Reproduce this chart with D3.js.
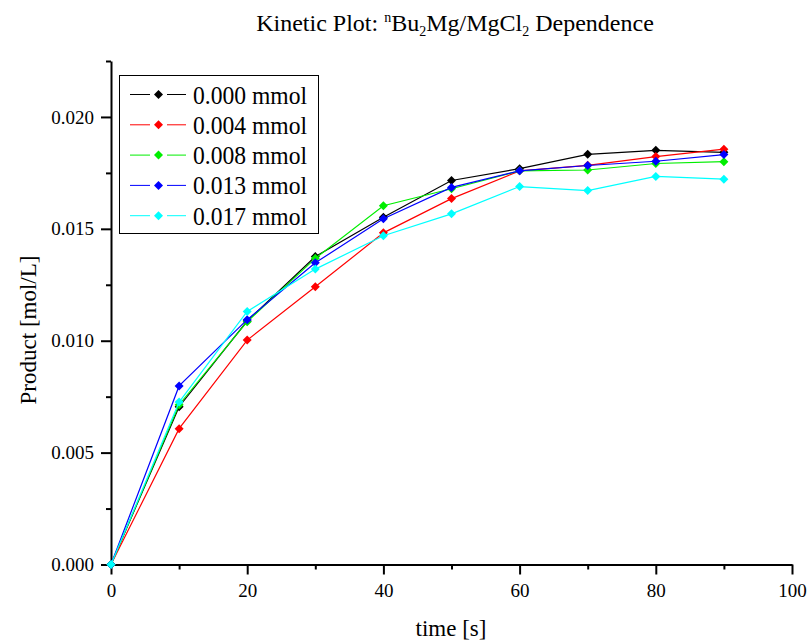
<!DOCTYPE html>
<html>
<head>
<meta charset="utf-8">
<script src="https://cdn.jsdelivr.net/npm/d3@7"></script>
<style>
  body { margin: 0; background: #fff; }
  svg { display: block; font-family: "Liberation Serif", "Times New Roman", serif; }
  .axis path, .axis line { stroke: #000; }
  .axis path { stroke-width: 2; }
  .axis .tick line { stroke-width: 2; }
  .axis text { font-size: 19px; fill: #000; font-family: "Liberation Serif", serif; }
</style>
</head>
<body>
<svg id="chart" width="808" height="640"></svg>
<script>
const times = [0, 10, 20, 30, 40, 50, 60, 70, 80, 90];
const seriesLabels = ['0.000 mmol', '0.004 mmol', '0.008 mmol', '0.013 mmol', '0.017 mmol'];
const seriesColors = ['#000000', '#ff0000', '#00ee00', '#0000ff', '#00ffff'];
const product000 = [0, 0.00705, 0.01088, 0.01376, 0.01552, 0.01716, 0.01769, 0.01833, 0.01851, 0.01842];
const product004 = [0, 0.00607, 0.01003, 0.01241, 0.01482, 0.01635, 0.01759, 0.01784, 0.01823, 0.01856];
const product008 = [0, 0.00714, 0.01085, 0.01368, 0.01603, 0.01679, 0.01759, 0.01763, 0.01792, 0.01800];
const product013 = [0, 0.00798, 0.01094, 0.01348, 0.01545, 0.01685, 0.01759, 0.01783, 0.01802, 0.01832];
const product017 = [0, 0.00726, 0.01131, 0.01320, 0.01469, 0.01567, 0.01689, 0.01671, 0.01734, 0.01722];
const xTicks = [0, 20, 40, 60, 80, 100];
const xMinorTicks = [10, 30, 50, 70, 90];
const yTicks = [0, 0.005, 0.010, 0.015, 0.020];
const yMinorTicks = [0.0025, 0.0075, 0.0125, 0.0175, 0.0225];

const series = [product000, product004, product008, product013, product017].map((values, i) => ({
  label: seriesLabels[i],
  color: seriesColors[i],
  points: values.map((v, j) => ({ t: times[j], v })),
}));

const svg = d3.select('#chart');
const x = d3.scaleLinear().domain([0, 100]).range([111, 792]);
const y = d3.scaleLinear().domain([0, 0.0225]).range([564.5, 61]);

// diamond marker, drawn as a square turned on its corner
const diamond = r => `M0,${-r}L${r},0L0,${r}L${-r},0Z`;

function drawAxes() {
  svg.append('g')
    .attr('class', 'axis')
    .attr('transform', 'translate(0,564.5)')
    .call(d3.axisBottom(x).tickValues(xTicks).tickSize(10).tickPadding(9).tickSizeOuter(0))
  ;
  svg.append('g')
    .attr('class', 'axis minor')
    .attr('transform', 'translate(0,564.5)')
    .call(d3.axisBottom(x).tickValues(xMinorTicks).tickSize(5).tickFormat('').tickSizeOuter(0))
    .call(g => g.select('.domain').remove())
  ;
  svg.append('g')
    .attr('class', 'axis')
    .attr('transform', 'translate(111,0)')
    .call(d3.axisLeft(y).tickValues(yTicks).tickFormat(d3.format('.3f')).tickSize(10).tickPadding(7).tickSizeOuter(0))
  ;
  svg.append('g')
    .attr('class', 'axis minor')
    .attr('transform', 'translate(111,0)')
    .call(d3.axisLeft(y).tickValues(yMinorTicks).tickSize(5).tickFormat('').tickSizeOuter(0))
    .call(g => g.select('.domain').remove())
  ;
}

function drawSeries() {
  const line = d3.line().x(d => x(d.t)).y(d => y(d.v));
  const group = svg.append('g')
    .attr('class', 'series')
    .selectAll('g')
    .data(series)
    .enter()
    .append('g')
  ;
  group.append('path')
    .attr('d', d => line(d.points))
    .attr('fill', 'none')
    .attr('stroke', d => d.color)
    .attr('stroke-width', 1.2)
  ;
  group.selectAll('path.marker')
    .data(d => d.points.map(p => ({ ...p, color: d.color })))
    .enter()
    .append('path')
    .attr('class', 'marker')
    .attr('d', diamond(4.5))
    .attr('transform', d => `translate(${x(d.t)},${y(d.v)})`)
    .attr('fill', d => d.color)
  ;
}

function drawLegend() {
  const legend = svg.append('g').attr('class', 'legend');
  legend.append('rect')
    .attr('x', 119.5)
    .attr('y', 75.5)
    .attr('width', 199)
    .attr('height', 158)
    .attr('fill', '#fff')
    .attr('stroke', '#000')
    .attr('stroke-width', 1)
  ;
  const item = legend.selectAll('g.item')
    .data(series)
    .enter()
    .append('g')
    .attr('class', 'item')
    .attr('transform', (d, i) => `translate(0,${94.5 + i * 30.3})`)
  ;
  item.append('line')
    .attr('x1', 130).attr('x2', 150)
    .attr('stroke', d => d.color)
  ;
  item.append('line')
    .attr('x1', 167).attr('x2', 186)
    .attr('stroke', d => d.color)
  ;
  item.append('path')
    .attr('d', diamond(4.5))
    .attr('transform', 'translate(158.5,0)')
    .attr('fill', d => d.color)
  ;
  item.append('text')
    .attr('x', 193)
    .attr('y', 9)
    .attr('font-size', 25)
    .attr('textLength', 114)
    .attr('lengthAdjust', 'spacingAndGlyphs')
    .text(d => d.label)
  ;
}

function drawTitles() {
  const title = svg.append('text')
    .attr('x', 455)
    .attr('y', 31)
    .attr('text-anchor', 'middle')
    .attr('font-size', 24)
  ;
  title.append('tspan').text('Kinetic Plot: ');
  title.append('tspan').attr('font-size', 14).attr('dy', -9).text('n');
  title.append('tspan').attr('dy', 9).text('Bu');
  title.append('tspan').attr('font-size', 14).attr('dy', 5).text('2');
  title.append('tspan').attr('dy', -5).text('Mg/MgCl');
  title.append('tspan').attr('font-size', 14).attr('dy', 5).text('2');
  title.append('tspan').attr('dy', -5).text(' Dependence');

  svg.append('text')
    .attr('x', 451)
    .attr('y', 636)
    .attr('text-anchor', 'middle')
    .attr('font-size', 23)
    .text('time [s]')
  ;
  svg.append('text')
    .attr('transform', 'translate(36,330) rotate(-90)')
    .attr('text-anchor', 'middle')
    .attr('font-size', 23)
    .text('Product [mol/L]')
  ;
}

drawAxes();
drawSeries();
drawLegend();
drawTitles();
</script>
</body>
</html>
